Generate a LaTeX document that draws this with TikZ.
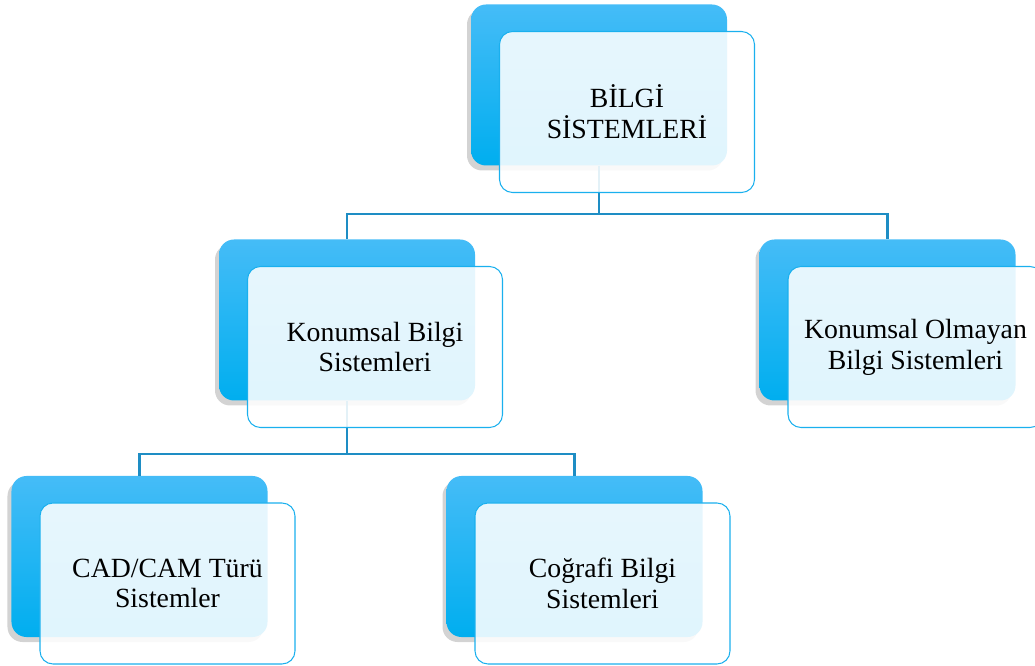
\documentclass[tikz,border=0pt]{standalone}
\usepackage{fontspec}
\setmainfont{Liberation Serif}
\usetikzlibrary{positioning,shadows}
\definecolor{maviust}{HTML}{45BCF7}
\definecolor{mavialt}{HTML}{00AEEF}
\definecolor{kenar}{HTML}{1AB0EE}
\definecolor{hatrenk}{HTML}{1E8DC4}
\tikzset{
  % arka plandaki mavi kutu
  zemin/.style={rectangle,rounded corners=.3cm,
    minimum width=5.12cm,minimum height=3.22cm,inner sep=0pt,
    top color=maviust,bottom color=mavialt,
    drop shadow={shadow xshift=-.08cm,shadow yshift=-.1cm,opacity=.35}
  },
  % öndeki açık kutu (yazı burada)
  kart/.style={rectangle,rounded corners=.26cm,
    minimum width=5.1cm,minimum height=3.22cm,inner sep=0pt,
    draw=kenar,line width=.6pt,fill=white,fill opacity=.88,text opacity=1,
    align=center,font=\fontsize{15.8}{17.5}\selectfont
  },
  hat/.style={draw=hatrenk,line width=1.2pt},
  kaydir/.style={shift={(.56,-.54)}}
}
\begin{document}
\begin{tikzpicture}
\useasboundingbox (0,0) rectangle (20.7,-13.32);
% mavi kutular
  \node[zemin] (bs) at (11.98,-1.70) {};
  \node[zemin] (kb) at (6.94,-6.40) {};
  \node[zemin] (kob) at (17.75,-6.40) {};
  \node[zemin] (cad) at (2.79,-11.13) {};
  \node[zemin] (cbs) at (11.49,-11.13) {};
% bağlantılar
  \draw[hat] (bs.south) -- ++(0,-.96) -| (kb.north);
  \draw[hat] (bs.south) -- ++(0,-.96) -| (kob.north);
  \draw[hat] (kb.south) -- ++(0,-1.06) -| (cad.north);
  \draw[hat] (kb.south) -- ++(0,-1.06) -| (cbs.north);
% yazılı kutular
  \node[kart] (bs-k) at ([kaydir]bs.center) {BİLGİ\\SİSTEMLERİ};
  \node[kart] (kb-k) at ([kaydir]kb.center) {Konumsal Bilgi\\Sistemleri};
  \node[kart] (kob-k) at ([kaydir]kob.center) {Konumsal Olmayan\\Bilgi Sistemleri};
  \node[kart] (cad-k) at ([kaydir]cad.center) {CAD/CAM Türü\\Sistemler};
  \node[kart] (cbs-k) at ([kaydir]cbs.center) {Coğrafi Bilgi\\Sistemleri};
\end{tikzpicture}
\end{document}
